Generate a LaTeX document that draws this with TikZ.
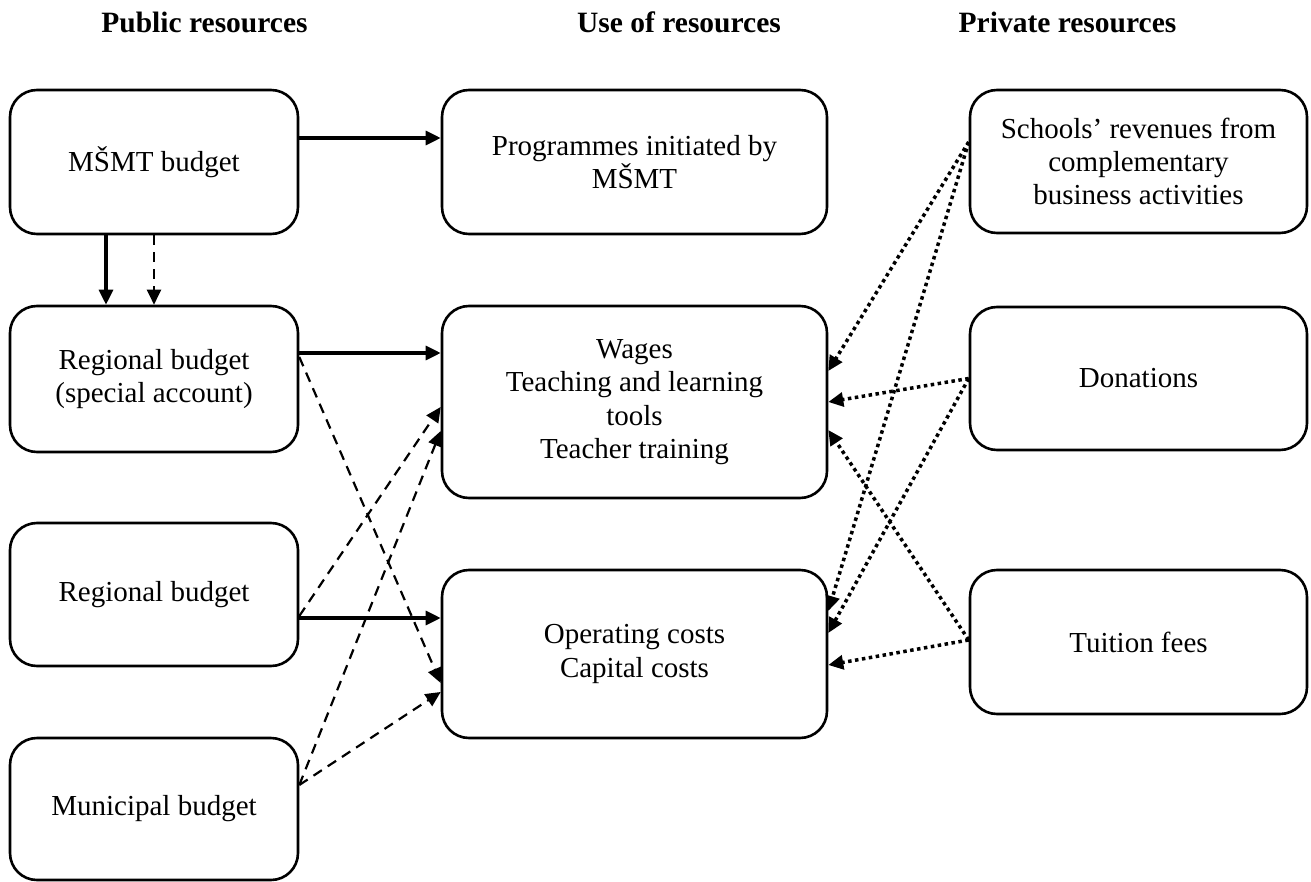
\documentclass[tikz,border=0pt]{standalone}
\usepackage{fontspec}
\setmainfont{Liberation Serif}
\usetikzlibrary{arrows.meta}
\begin{document}
\begin{tikzpicture}[x=0.5pt,y=-0.5pt,
  every node/.style={font=\fontsize{14.5pt}{16.7pt}\selectfont},
  box/.style={draw, line width=1.3pt, rounded corners=13.5pt, align=center, inner sep=0pt},
  lbox/.style={box, minimum width=144pt},
  mbox/.style={box, minimum width=192.5pt},
  rbox/.style={box, minimum width=168.5pt},
  head/.style={font=\fontsize{14.75pt}{17pt}\selectfont\bfseries, anchor=base},
  tip/.style={-{Triangle[length=7.5pt,width=7pt]}},
  solidarr/.style={tip, line width=1.6pt},
  dasharr/.style={tip, line width=1.1pt, dash pattern=on 5pt off 3.5pt},
  dotarr/.style={tip, line width=1.75pt, dash pattern=on 1.75pt off 1.75pt},
]
\useasboundingbox (0,0) rectangle (1311,882);

% headers
\node[head] (h1) at (204.5,33) {Public resources};
\node[head] (h2) at (679,33) {Use of resources};
\node[head] (h3) at (1067.5,33) {Private resources};

% left column
\node[lbox, minimum height=72pt] (l1) at (154,162) {MŠMT budget};
\node[lbox, minimum height=73pt] (l2) at (154,379) {Regional budget\\(special account)};
\node[lbox, minimum height=71.5pt] (l3) at (154,594.5) {Regional budget};
\node[lbox, minimum height=71pt] (l4) at (154,809) {Municipal budget};

% middle column
\node[mbox, minimum height=72pt] (m1) at (634.5,162) {Programmes initiated by\\MŠMT};
\node[mbox, minimum height=96pt] (m2) at (634.5,402) {Wages\\Teaching and learning\\tools\\Teacher training};
\node[mbox, minimum height=84pt] (m3) at (634.5,654) {Operating costs\\Capital costs};

% right column
\node[rbox, minimum height=71.5pt] (r1) at (1138.5,161.5) {Schools’ revenues from\\complementary\\business activities};
\node[rbox, minimum height=71.5pt] (r2) at (1138.5,378.5) {Donations};
\node[rbox, minimum height=72pt] (r3) at (1138.5,642) {Tuition fees};

% solid flows
\coordinate (a1) at ([yshift=12pt]l1.east);
\coordinate (a2) at ([yshift=13pt]l2.east);
\coordinate (a3) at ([yshift=-11.75pt]l3.east);
\draw[solidarr] (a1) -- (a1 -| m1.west);
\draw[solidarr] ([xshift=-24pt]l1.south) -- ([xshift=-24pt]l2.north);
\draw[solidarr] (a2) -- (a2 -| m2.west);
\draw[solidarr] (a3) -- (a3 -| m3.west);

% dashed flows
\draw[dasharr] (l1.south) -- (l2.north);
\draw[dasharr] ([yshift=11pt]l2.east) -- ([yshift=-14.5pt]m3.west);
\draw[dasharr] ([yshift=-10.75pt]l3.east) -- ([yshift=-2.5pt]m2.west);
\draw[dasharr] ([yshift=12pt]l4.east) -- ([yshift=-14.5pt]m2.west);
\draw[dasharr] ([yshift=12pt]l4.east) -- ([yshift=-19pt]m3.west);

% dotted flows
\draw[dotarr] ([yshift=9.75pt]r1.west) -- ([yshift=15.5pt]m2.east);
\draw[dotarr] ([yshift=9.75pt]r1.west) -- ([yshift=21.5pt]m3.east);
\draw[dotarr] (r2.west) -- (m2.east);
\draw[dotarr] (r2.west) -- ([yshift=10.5pt]m3.east);
\draw[dotarr] ([yshift=1pt]r3.west) -- ([yshift=-14pt]m2.east);
\draw[dotarr] ([yshift=1pt]r3.west) -- ([yshift=-5.5pt]m3.east);
\end{tikzpicture}
\end{document}
